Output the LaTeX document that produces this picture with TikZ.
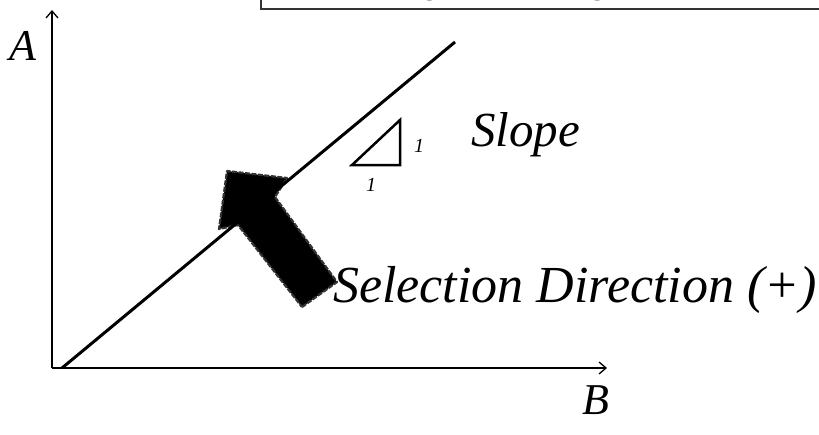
\documentclass[tikz,border=0pt]{standalone}
\usepackage{fontspec}
\setmainfont{Liberation Serif}
\newfontfamily\boxfont{Carlito}
\usetikzlibrary{arrows.meta}
\begin{document}
\begin{tikzpicture}[x=1pt,y=-1pt,
  axis/.style={line width=1.3pt,-{Straight Barb[length=7pt,width=12pt,line width=1.3pt]}},
  lbl/.style={inner sep=0pt,font=\itshape},
  bigarrow/.style={fill=black,draw=black!80,line width=2.2pt,dash pattern=on 5pt off 1.5pt,line join=round}]
\useasboundingbox (0,0) rectangle (819,434);
% top box (cut off)
\begin{scope}
\clip (0,0) rectangle (819,434);
\draw[line width=2pt,draw=black!80,fill=white] (261,-60) rectangle (840,9);
\node[inner sep=0pt,anchor=base west,font=\boxfont\fontsize{37}{40}\selectfont] (eq) at (393,-6) {log(A)\hspace{30pt}=\hspace{30pt}log(B)};
\end{scope}
% axes
\coordinate (O) at (52,368);
\coordinate (xend) at (607,368);
\coordinate (yend) at (52,10);
\draw[axis] (O) -- (xend);
\draw[axis] (O) -- (yend);
\node[lbl,font=\itshape\fontsize{44}{48}\selectfont] (A) at (23,46) {A};
\node[lbl,font=\itshape\fontsize{44}{48}\selectfont] (B) at (596,400) {B};
% selection arrow
\draw[bigarrow] (302,307) -- (337,282) -- (275,197) -- (287,178) -- (227,171) -- (219,229) -- (238,225) -- cycle;
% slope line
\coordinate (l0) at (62,368);
\coordinate (l1) at (455,42);
\draw[line width=3pt] (l0) -- (l1);
% slope triangle
\coordinate (t1) at (352,165);
\coordinate (t2) at (400,165);
\coordinate (t3) at (400,120);
\draw[line width=2.5pt,line join=miter] (t1) -- (t2) -- (t3) -- cycle;
\node[lbl,font=\itshape\fontsize{20}{22}\selectfont] (one1) at (419,146) {1};
\node[lbl,font=\itshape\fontsize{20}{22}\selectfont] (one2) at (371,185) {1};
\node[lbl,font=\itshape\fontsize{49}{52}\selectfont,anchor=west] (slope) at (471,135) {Slope};
\node[lbl,font=\itshape\fontsize{52}{56}\selectfont,anchor=west] (sel) at (333,290) {Selection Direction (+)};
\end{tikzpicture}
\end{document}
